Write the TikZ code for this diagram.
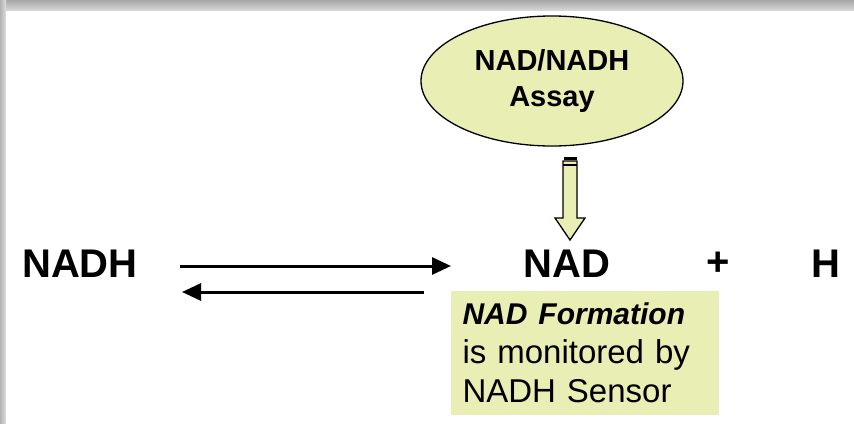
\documentclass[tikz,border=0pt]{standalone}
\usepackage{fontspec}
\setmainfont{Liberation Sans}
\usetikzlibrary{shapes.geometric,arrows.meta}
\definecolor{paleyg}{HTML}{E9EEB4}
\begin{document}
\begin{tikzpicture}[x=1pt,y=-1pt,
  chem/.style={font=\fontsize{40}{44}\selectfont\bfseries, inner sep=0pt},
  rxn/.style={line width=3pt, -{Triangle[length=19pt,width=17pt]}},
  hollow/.style={draw=black, line width=1.3pt, fill=paleyg, line join=miter}]
% frame
\useasboundingbox (0,0) rectangle (854,423);
\shade[top color=gray!70, bottom color=gray!25] (0,0) rectangle (854,12);
\shade[left color=gray!60, right color=gray!25] (0,0) rectangle (6,423);
\fill[white] (6,11) rectangle (854,423);
% assay ellipse
\node[ellipse, draw=black, line width=1.3pt, fill=paleyg, minimum width=262pt, minimum height=130pt, inner sep=0pt,
      align=center, font=\fontsize{29}{36}\selectfont\bfseries] (assay) at (552,81) {NAD/NADH\\Assay};
% species
\node[chem] (nadh) at (80,264) {NADH};
\node[chem] (nad) at (567,264) {NAD};
\node[chem] (plus) at (718,264) {+};
\node[chem] (h) at (826,264) {H};
% reaction arrows
\coordinate (f1) at (180,266);
\coordinate (f2) at (451,266);
\coordinate (r1) at (424,292);
\coordinate (r2) at (182,292);
\draw[rxn] (f1) -- (f2);
\draw[rxn] (r1) -- (r2);
% hollow arrow from assay to NAD
\coordinate (hb) at (570,240);
\draw[hollow] (563,161) -- (577,161) -- (577,218) -- (585,218) -- (hb) -- (555,218) -- (563,218) -- cycle;
\fill[black] (563.5,156.5) rectangle (576.5,159.5);
\draw[line width=1.1pt] (563,165) -- (577,165);
% note box
\node[fill=paleyg, minimum width=268pt, minimum height=124pt, text width=245pt, inner xsep=11.5pt, inner ysep=0pt,
      align=left, font=\fontsize{33}{39}\selectfont] (note) at (585,353)
      {{\fontsize{30}{39}\selectfont\textbf{\textit{NAD Formation}}}\\is monitored by\\NADH Sensor};
\end{tikzpicture}
\end{document}
